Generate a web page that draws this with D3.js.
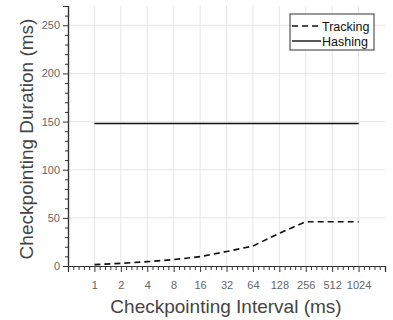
<!DOCTYPE html>
<html>
<head>
<meta charset="utf-8">
<script src="https://cdn.jsdelivr.net/npm/d3@7"></script>
<style>
  body { margin: 0; background: #fff; }
  text { font-family: "Liberation Sans", Arial, sans-serif; }
</style>
</head>
<body>
<div id="chart-area"></div>
<script>
// values
const intervals = [1, 2, 4, 8, 16, 32, 64, 128, 256, 512, 1024]
const tracking = [1.4, 2.8, 4.5, 6.6, 9.7, 15, 20.7, 34, 46, 46, 46]
const hashing = [148, 148, 148, 148, 148, 148, 148, 148, 148, 148, 148]
const yTicks = [0, 50, 100, 150, 200, 250]

const W = 393, H = 320
const MARGIN = { LEFT: 68, RIGHT: 8, TOP: 6, BOTTOM: 54 }

const svg = d3.select("#chart-area").append("svg")
  .attr("width", W)
  .attr("height", H)

const x = d3.scaleLog().base(2)
  .domain([0.5, 2048])
  .range([MARGIN.LEFT, W - MARGIN.RIGHT])

const y = d3.scaleLinear()
  .domain([0, 270])
  .range([H - MARGIN.BOTTOM, MARGIN.TOP])

// grid
svg.append("g").selectAll("line.gx")
  .data(intervals)
  .join("line")
  .attr("x1", d => x(d)).attr("x2", d => x(d))
  .attr("y1", y(0)).attr("y2", y(270))
  .attr("stroke", "#e6e6e6")

svg.append("g").selectAll("line.gy")
  .data(yTicks.slice(1))
  .join("line")
  .attr("x1", x(0.5)).attr("x2", x(2048))
  .attr("y1", d => y(d)).attr("y2", d => y(d))
  .attr("stroke", "#e6e6e6")

// minor ticks
const xMinor = []
for (let k = -1; k < 11; k++) {
  for (let j = 1; j < 5; j++) xMinor.push(Math.pow(2, k + j / 5))
}
xMinor.push(0.5, 2048)
const yMinor = d3.range(0, 271, 10).filter(d => d % 50 !== 0)

const xAxisMinor = svg.append("g")
  .attr("transform", `translate(0, ${y(0)})`)
  .call(d3.axisBottom(x).tickValues(xMinor).tickSize(4).tickFormat(""))
const yAxisMinor = svg.append("g")
  .attr("transform", `translate(${x(0.5)}, 0)`)
  .call(d3.axisLeft(y).tickValues(yMinor).tickSize(3).tickFormat(""))

const xAxis = svg.append("g")
  .attr("transform", `translate(0, ${y(0)})`)
  .call(d3.axisBottom(x).tickValues(intervals).tickSize(6).tickPadding(9).tickFormat(d => d))
const yAxis = svg.append("g")
  .attr("transform", `translate(${x(0.5)}, 0)`)
  .call(d3.axisLeft(y).tickValues(yTicks).tickSize(5).tickPadding(3))

;[xAxisMinor, yAxisMinor, xAxis, yAxis].forEach(a => {
  a.select(".domain").attr("stroke", "#333").attr("stroke-width", 1.2)
  a.selectAll(".tick line").attr("stroke", "#333")
  a.selectAll("text")
    .attr("fill", "#666")
    .style("font-size", "11px")
    .style("font-family", "Liberation Sans, Arial, sans-serif")
})

// lines
const line = d3.line()
  .x((d, i) => x(intervals[i]))
  .y(d => y(d))

svg.append("path")
  .datum(hashing)
  .attr("fill", "none")
  .attr("stroke", "#111")
  .attr("stroke-width", 1.6)
  .attr("d", line)

svg.append("path")
  .datum(tracking)
  .attr("fill", "none")
  .attr("stroke", "#111")
  .attr("stroke-width", 1.6)
  .attr("stroke-dasharray", "6,4")
  .attr("d", line)

// legend
const leg = svg.append("g").attr("transform", "translate(290, 14)")
leg.append("rect")
  .attr("width", 84).attr("height", 36)
  .attr("fill", "#fff").attr("stroke", "#333")
const legItems = [["Tracking", "6,4"], ["Hashing", null]]
legItems.forEach((d, i) => {
  const yy = 12 + i * 15
  leg.append("line")
    .attr("x1", 2).attr("x2", 31)
    .attr("y1", yy).attr("y2", yy)
    .attr("stroke", "#111").attr("stroke-width", 1.4)
    .attr("stroke-dasharray", d[1])
  leg.append("text")
    .attr("x", 32).attr("y", yy + 4.5)
    .style("font-size", "12.5px")
    .attr("fill", "#111")
    .text(d[0])
})

// axis labels
svg.append("text")
  .attr("x", 226)
  .attr("y", 313)
  .attr("text-anchor", "middle")
  .style("font-size", "19px")
  .attr("fill", "#444")
  .text("Checkpointing Interval (ms)")

svg.append("text")
  .attr("transform", "rotate(-90)")
  .attr("x", -139)
  .attr("y", 33)
  .attr("text-anchor", "middle")
  .style("font-size", "19px")
  .attr("fill", "#444")
  .text("Checkpointing Duration (ms)")
</script>
</body>
</html>
